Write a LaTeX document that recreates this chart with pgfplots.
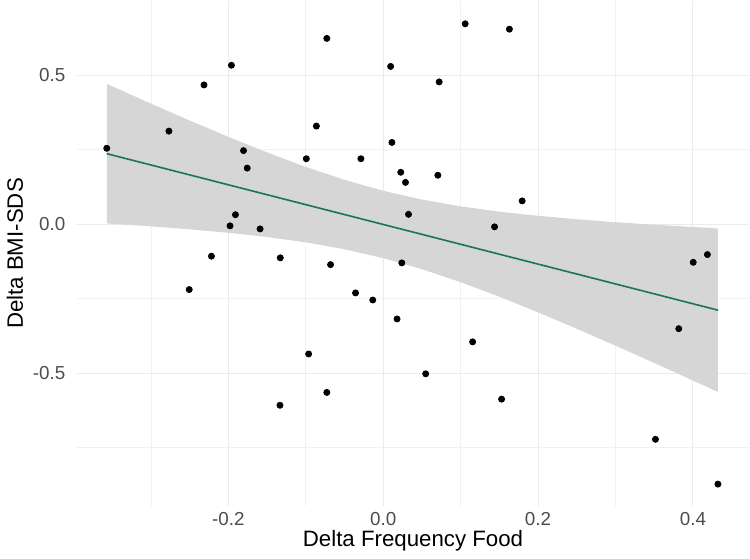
\documentclass[border=0pt]{standalone}
\usepackage{pgfplots}
\pgfplotsset{compat=1.18}
\usepgfplotslibrary{fillbetween}
\usepackage{fontspec}
\setmainfont{Liberation Sans}
\definecolor{bandgray}{RGB}{214,214,214}
\definecolor{fitgreen}{RGB}{27,118,86}
\definecolor{gridgray}{RGB}{235,235,235}
\definecolor{ticktext}{RGB}{77,77,77}

\begin{document}
\begin{tikzpicture}
\begin{axis}[
  scale only axis,
  width=332.5pt, height=250pt,
  xmin=-0.396, xmax=0.473, ymin=-0.947, ymax=0.75,
  axis line style={draw=none},
  major tick length=0pt, minor tick length=0pt,
  xtick={-0.2,0,0.2,0.4}, xticklabels={-0.2,0.0,0.2,0.4},
  ytick={-0.5,0,0.5}, yticklabels={-0.5,0.0,0.5},
  minor xtick={-0.3,-0.1,0.1,0.3},
  minor ytick={-0.75,-0.25,0.25},
  grid=both,
  major grid style={gridgray, line width=0.55pt},
  minor grid style={gridgray!70, line width=0.35pt},
  tick label style={font=\fontsize{9.3}{10}\selectfont, text=ticktext},
  yticklabel style={xshift=-2pt},
  xticklabel style={yshift=0.5pt},
  xlabel={Delta Frequency Food},
  ylabel={Delta BMI-SDS},
  label style={font=\fontsize{11}{13}\selectfont},
  xlabel style={yshift=4.5pt},
  ylabel style={yshift=-2pt},
]
% 95% confidence band of the linear fit
\addplot[name path=upper, draw=none, forget plot] coordinates {
  (-0.357,0.4705)(-0.30,0.4044)(-0.25,0.3478)(-0.20,0.2929)(-0.15,0.2406)
  (-0.10,0.1920)(-0.05,0.1487)(0.00,0.1120)(0.05,0.0825)(0.10,0.0596)
  (0.15,0.0419)(0.20,0.0279)(0.25,0.0164)(0.30,0.0066)(0.35,-0.0019)
  (0.4323,-0.0143)};
\addplot[name path=lower, draw=none, forget plot] coordinates {
  (-0.357,0.0023)(-0.30,-0.0074)(-0.25,-0.0173)(-0.20,-0.0289)(-0.15,-0.0431)
  (-0.10,-0.0610)(-0.05,-0.0842)(0.00,-0.1140)(0.05,-0.1510)(0.10,-0.1946)
  (0.15,-0.2434)(0.20,-0.2959)(0.25,-0.3509)(0.30,-0.4076)(0.35,-0.4656)
  (0.4323,-0.5627)};
\addplot[bandgray, draw=none] fill between[of=upper and lower];
% data points
\addplot[only marks, mark=*, mark size=1.5pt, black] coordinates {
  (-0.357,0.2545)(-0.2767,0.312)(-0.2314,0.467)(-0.196,0.533)(-0.0728,0.623)
  (-0.0863,0.329)(-0.1804,0.2466)(-0.1756,0.188)(-0.0993,0.2194)(-0.0288,0.2194)
  (-0.1908,0.0317)(-0.1978,-0.0057)(-0.159,-0.016)(-0.2218,-0.1075)(-0.1329,-0.113)
  (-0.068,-0.1357)
  (0.1059,0.672)(0.163,0.654)(0.0096,0.529)(0.0723,0.477)(0.0113,0.274)
  (0.0227,0.174)(0.0288,0.140)(0.0706,0.164)(0.1795,0.078)(0.0327,0.0329)
  (0.1438,-0.009)(0.024,-0.130)(0.4004,-0.128)(0.4187,-0.102)
  (-0.2505,-0.2195)(-0.0357,-0.2307)(-0.0135,-0.2545)(-0.0963,-0.4355)
  (-0.0728,-0.5644)(-0.1333,-0.6075)
  (0.0179,-0.318)(0.1155,-0.3948)(0.0549,-0.502)(0.1529,-0.587)
  (0.3817,-0.3506)(0.3516,-0.7217)(0.4323,-0.872)};
% fitted line
\addplot[fitgreen, line width=0.8pt] coordinates {(-0.357,0.2364)(0.4323,-0.2885)};
\end{axis}
\end{tikzpicture}
\end{document}
